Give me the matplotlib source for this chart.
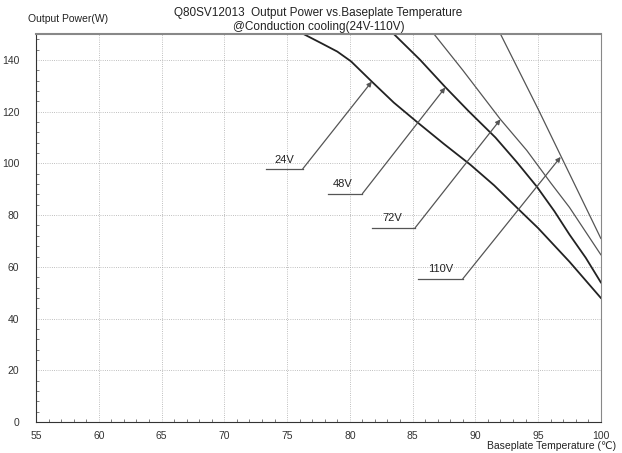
import matplotlib
matplotlib.use('Agg')
from matplotlib import pyplot as plt
from matplotlib.ticker import MultipleLocator

# Curvas de derating (temperatura de base, potencia)
t_24 = [76.3, 77.7, 79.0, 80.1, 81.75, 83.5, 85.4, 87.5, 89.6, 91.5, 93.5, 95.0, 97.5, 100.0]
p_24 = [150, 146.5, 143.2, 139.4, 131.6, 123.5, 115.8, 107.5, 99.5, 91.5, 82, 75, 62, 48]

t_48 = [83.5, 85.6, 87.6, 89.5, 91.6, 93.3, 94.9, 96.3, 97.5, 98.8, 100.0]
p_48 = [150, 140, 129.5, 120, 110, 100.5, 91, 81.5, 72.5, 63.5, 54]

t_72 = [86.7, 89.0, 92.0, 94.1, 96.0, 97.5, 100.0]
p_72 = [150, 136, 117, 105, 92.5, 83, 64.7]

t_110 = [92.0, 93.5, 95.0, 96.2, 97.5, 100.0]
p_110 = [150, 135.5, 121, 109, 96, 71]

labels = ['24V', '48V', '72V', '110V']

plt.rcParams['font.family'] = ['Liberation Sans', 'DejaVu Sans']

fig = plt.figure(figsize=(6.22, 4.53), dpi=100)
ax = fig.add_axes([0.058, 0.068, 0.908, 0.857])

ax.plot(t_24, p_24, color='#222222', lw=1.3)
ax.plot(t_48, p_48, color='#222222', lw=1.3)
ax.plot(t_72, p_72, color='#555555', lw=0.9)
ax.plot(t_110, p_110, color='#555555', lw=0.9)

# Etiquetas con flecha: (inicio linea, esquina, y de linea, punta, texto)
notas = [
    (73.3, 76.25, 97.9, (81.75, 131.6), (74.8, 99.5)),
    (78.25, 81.0, 88.3, (87.6, 129.3), (79.4, 90.0)),
    (81.8, 85.2, 75.1, (92.0, 117.0), (83.4, 76.8)),
    (85.4, 89.0, 55.4, (96.8, 102.5), (87.25, 57.2)),
]
for lab, (x0, x1, yl, tip, txt) in zip(labels, notas):
    ax.plot([x0, x1], [yl, yl], color='#555555', lw=0.9)
    ax.annotate('', xy=tip, xytext=(x1, yl),
                arrowprops=dict(arrowstyle='-|>', color='#555555', lw=0.9,
                                mutation_scale=7, shrinkA=0, shrinkB=0))
    ax.text(txt[0], txt[1], lab, fontsize=8, ha='center', va='bottom', color='#222222')

ax.set_xlim(55, 100)
ax.set_ylim(0, 150)
ax.xaxis.set_major_locator(MultipleLocator(5))
ax.xaxis.set_minor_locator(MultipleLocator(1))
ax.yaxis.set_major_locator(MultipleLocator(20))
ax.yaxis.set_minor_locator(MultipleLocator(4))
ax.tick_params(which='both', direction='in', labelsize=7.5, colors='#333333')
ax.tick_params(which='major', length=0, pad=6)
ax.tick_params(which='minor', length=2.5, color='#666666')
ax.tick_params(axis='y', which='major', pad=12)

ax.grid(True, which='major', linestyle=':', linewidth=0.6, color='#aaaaaa')
for s in ['left', 'bottom']:
    ax.spines[s].set_color('#333333')
for s in ['top', 'right']:
    ax.spines[s].set_color('#888888')
ax.spines['top'].set_linewidth(1.5)

fig.text(0.512, 0.972, 'Q80SV12013  Output Power vs.Baseplate Temperature',
         fontsize=8.5, ha='center', va='center', color='#222222')
fig.text(0.512, 0.940, '@Conduction cooling(24V-110V)',
         fontsize=8.5, ha='center', va='center', color='#222222')
fig.text(0.045, 0.958, 'Output Power(W)', fontsize=7.5, ha='left', va='center', color='#222222')
fig.text(0.99, 0.015, 'Baseplate Temperature (\u2103)', fontsize=7.5, ha='right',
         va='center', color='#222222')

fig.savefig('out.png', dpi=100)
